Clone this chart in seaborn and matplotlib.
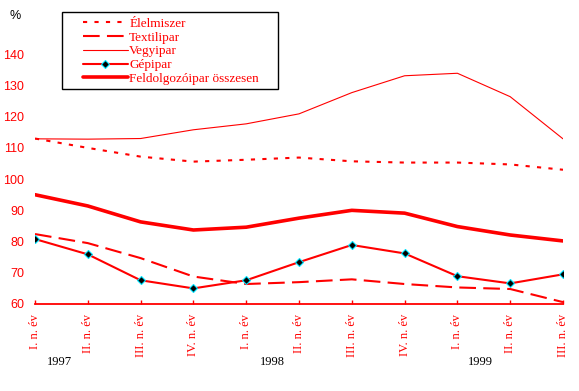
import matplotlib
matplotlib.use("Agg")
import matplotlib.pyplot as plt
import matplotlib.transforms as mtransforms
from matplotlib.patches import Rectangle
import seaborn as sns
import pandas as pd

periods = ["I. n. év", "II. n. év", "III. n. év", "IV. n. év",
           "I. n. év", "II. n. év", "III. n. év", "IV. n. év",
           "I. n. év", "II. n. év", "III. n. év"]
years = ["1997", "1998", "1999"]
year_pos = [0.47, 4.5, 8.43]

elelmiszer = [113.0, 110.0, 107.2, 105.6, 106.2, 106.9, 105.7, 105.3, 105.3, 104.7, 103.0]
textilipar = [82.4, 79.5, 74.7, 68.8, 66.4, 67.0, 67.9, 66.4, 65.3, 64.8, 60.6]
vegyipar = [112.9, 112.8, 113.0, 115.8, 117.7, 120.9, 127.7, 133.1, 133.9, 126.4, 112.9]
gepipar = [80.8, 75.9, 67.6, 65.0, 67.6, 73.4, 78.9, 76.2, 68.9, 66.6, 69.5]
osszesen = [95.0, 91.4, 86.3, 83.7, 84.6, 87.5, 90.0, 89.1, 84.8, 82.1, 80.2]

x = list(range(len(periods)))
df = pd.DataFrame({"x": x, "Élelmiszer": elelmiszer, "Textilipar": textilipar,
                   "Vegyipar": vegyipar, "Gépipar": gepipar,
                   "Feldolgozóipar összesen": osszesen})

sns.set_theme(style="white")
plt.rcParams["font.family"] = ["Liberation Serif", "DejaVu Sans"]

fig = plt.figure(figsize=(5.79, 3.91), dpi=100)
ax = fig.add_axes([35 / 579, 1 - 304 / 391, (563 - 35) / 579, (304 - 23) / 391])

red = "#FF0000"
sns.lineplot(data=df, x="x", y="Élelmiszer", ax=ax, color=red, lw=1.5,
             label="Élelmiszer").lines[-1].set_dashes((2, 3.5))
sns.lineplot(data=df, x="x", y="Textilipar", ax=ax, color=red, lw=1.5,
             label="Textilipar").lines[-1].set_dashes((8, 3.5))
sns.lineplot(data=df, x="x", y="Vegyipar", ax=ax, color=red, lw=0.8, label="Vegyipar")
sns.lineplot(data=df, x="x", y="Gépipar", ax=ax, color=red, lw=1.5, marker="D",
             markersize=4, markerfacecolor="black", markeredgecolor="#00E5FF",
             markeredgewidth=0.8, label="Gépipar")
sns.lineplot(data=df, x="x", y="Feldolgozóipar összesen", ax=ax, color=red, lw=2.6,
             label="Feldolgozóipar összesen")

ax.set_xlim(0, 10)
ax.set_ylim(60, 150)
yt = [60, 70, 80, 90, 100, 110, 120, 130, 140]
ax.set_yticks(yt)
ax.set_yticklabels([str(v) for v in yt], fontfamily="Liberation Sans", fontsize=9, color=red)
ax.set_xticks(x)
ax.set_xticklabels(periods, rotation=90, fontsize=9, color=red)
ax.tick_params(axis="x", direction="in", length=3, width=1, color=red, pad=7, bottom=True)
ax.tick_params(axis="y", length=0, pad=8)
ax.set_xlabel("")
ax.set_ylabel("")
for s in ["top", "right", "left"]:
    ax.spines[s].set_visible(False)
ax.spines["bottom"].set_color(red)
ax.spines["bottom"].set_linewidth(1.3)
ax.grid(False)

ytrans = mtransforms.blended_transform_factory(ax.transData, fig.transFigure)
for yr, xp in zip(years, year_pos):
    ax.text(xp, 1 - 362 / 391, yr, transform=ytrans,
            ha="center", va="center", fontsize=9, color="black")

fig.text(15 / 579, 1 - 16 / 391, "%", ha="center", va="center", fontsize=9,
         fontfamily="Liberation Sans", color="black")

# legend box frame
ax.add_patch(Rectangle((62 / 579, 1 - 89 / 391), (278 - 62) / 579, (89 - 12) / 391,
                       transform=fig.transFigure, facecolor="white", clip_on=False,
                       edgecolor="black", linewidth=1, zorder=4))
leg = ax.legend(loc="upper left", bbox_to_anchor=(83 / 579, 1 - 17.5 / 391),
                bbox_transform=fig.transFigure, borderaxespad=0, fontsize=9.5,
                labelcolor=red, frameon=False, handlelength=3.4, handletextpad=0.1,
                labelspacing=0.12, borderpad=0, numpoints=1)
leg.set_zorder(5)

fig.savefig("out.png", dpi=100)
